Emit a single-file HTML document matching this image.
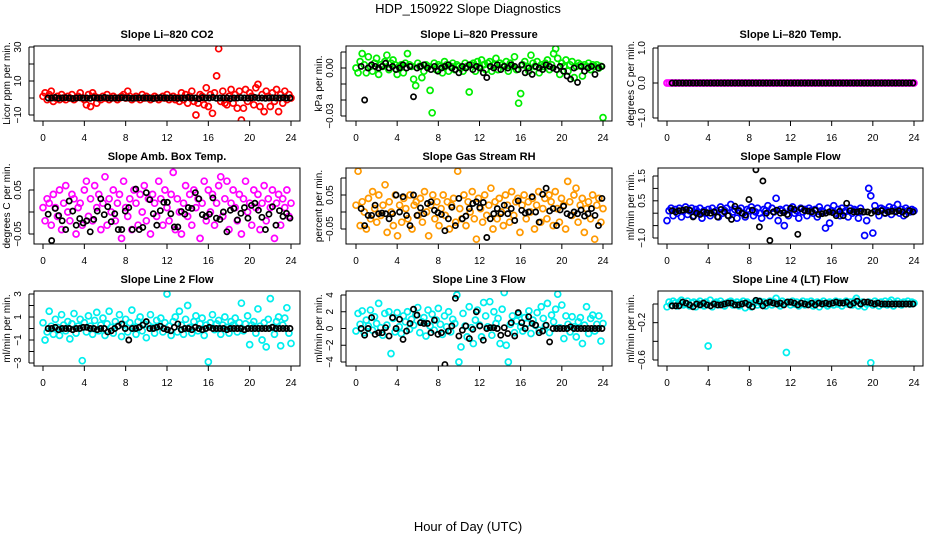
<!DOCTYPE html>
<html><head><meta charset="utf-8"><style>
html,body{margin:0;padding:0;background:#fff;}
svg{display:block;font-family:"Liberation Sans",sans-serif;}
</style></head><body>
<svg id="chart" width="936" height="540" viewBox="0 0 936 540" xmlns="http://www.w3.org/2000/svg">
<text x="468" y="13" font-size="13" text-anchor="middle">HDP_150922  Slope Diagnostics</text>
<text x="468" y="531" font-size="13" text-anchor="middle">Hour of Day (UTC)</text>
</svg>
<script>
const xTicks = [0,4,8,12,16,20,24];
const co2Color = [1,3,-1,2,4,-2,0,1,-1,2,0,-1,1,0,2,-1,0,1,3,0,-1,-4,2,-5,3,1,-3,0,-1,1,0,2,-1,0,1,0,-1,0,1,2,0,4,1,-1,0,1,0,-1,2,0,1,0,-1,0,1,0,-1,0,1,0,2,-1,0,1,-1,0,
-2,3,-1,2,-3,1,4,-2,-10,-3,2,1,-4,6,-5,2,-9,3,13,29,-2,4,-3,-4,1,5,-3,2,-6,4,-13,-6,5,-2,3,1,-4,6,8,-5,2,-8,4,1,-5,3,-2,5,-8,2,-3,4,-1,2,0];
const co2Black = [0,0,0.3,-0.2,0,0.2,0,-0.3,0,0.1,0,0,-0.2,0.2,0,0,0.3,0,-0.1,0,0,0.2,0,0,-0.2,0,0.1,0,0,0,-0.3,0,0.2,0,0,0.1,0,-0.2,0,0,0.3,0,0,-0.4,0.2,0,0,0.3,-0.2,0,0,0.1,-0.3,0,0,0.2,0,-0.1,0,0.3,0,0,-0.2,0,0.1,0,0,0.2,0,0];
const presColor = [0,-0.003,0.004,0.009,0.002,-0.003,0.007,0.001,-0.002,0.003,0.006,-0.004,0.002,0.001,0.004,0.008,-0.001,0.003,0.005,0.002,-0.004,0.001,0.002,-0.003,0.003,0.009,0.002,0.001,-0.007,-0.011,0.003,0.001,-0.006,-0.002,0.002,0.001,-0.014,-0.028,0.003,-0.001,0.002,0.001,-0.003,0.004,0.002,-0.002,0.001,0.003,-0.001,0.002,0.001,0,-0.002,0.003,0.001,-0.015,0.002,0.003,-0.002,0.004,0.001,0.005,0.002,-0.001,0.003,0.004,-0.002,0.002,0.006,-0.001,0.003,0.002,0.001,0.004,-0.002,0.003,0.001,0.007,-0.001,-0.022,-0.016,0.002,0.004,0.001,-0.002,0.008,0.003,0.001,0.004,-0.003,0.002,0.001,0.003,0.005,-0.001,0.002,0.009,0.012,0.006,-0.004,0.003,0.001,0.005,-0.002,0.002,0.004,-0.006,0.001,0.003,0.002,-0.005,0.002,0.001,0.003,-0.001,0.002,0.001,0.002,0,0.001,-0.031];
const presBlack = [0.001,-0.02,0,0.002,0.001,0,0.001,0.003,0,0.001,-0.001,0,0.002,0,0.001,-0.018,0,0.001,0.002,0,-0.001,0.001,-0.002,0,0.001,0.002,0,-0.001,-0.003,0.001,0,0.002,-0.001,0.001,0,-0.003,-0.006,0.001,0,0.002,-0.001,0.001,0,0.002,0.001,-0.001,0.002,-0.003,0,-0.004,0.001,0,-0.001,0.002,0.001,0,-0.001,0.001,-0.002,-0.005,-0.007,0,-0.009,0.001,-0.002,0,0.001,-0.004,0,0.001];
const tempColor = new Array(121).fill(0);
const tempBlack = new Array(70).fill(0);
const ambColor = [0.01,-0.02,0.03,0.02,-0.03,0.04,0.01,-0.01,0.05,-0.04,0.02,0.06,0,-0.02,0.04,0.03,-0.05,0.01,0.02,-0.03,0.05,0.07,-0.01,0.03,-0.02,0.06,0.01,0.04,-0.04,0.02,0.08,-0.03,0.03,0,0.05,-0.02,0.02,0.04,-0.06,0.07,0.01,-0.01,0.03,-0.04,0.05,0.02,-0.03,0.04,0,0.06,-0.02,0.03,-0.05,0.04,0.02,-0.01,0.07,0.03,-0.03,0.05,0.01,-0.02,0.04,0.09,-0.04,0.03,0,-0.05,0.02,0.06,-0.01,0.04,-0.03,0.05,0.01,0.03,-0.06,0.02,0.07,-0.02,0.05,0,0.04,-0.03,0.02,0.06,0.08,-0.01,0.03,0.07,-0.04,0.02,0.05,0.01,-0.02,0.04,-0.05,0.03,0.07,0,0.02,-0.03,0.05,0.01,0.04,-0.04,0.02,0.06,-0.02,0.03,0.01,0.05,-0.06,0.02,0.04,-0.03,0.03,0.01,0.05,-0.01,0.02];
const ambBlack = [-0.005,-0.065,0.008,-0.008,-0.02,-0.04,0.025,0.002,-0.03,-0.015,-0.025,-0.02,-0.045,-0.017,0.002,0.03,-0.006,0.012,-0.022,-0.004,-0.04,-0.04,0.002,0.01,-0.04,0.052,-0.04,-0.035,0.044,0.028,-0.004,-0.03,0.003,0.022,0.022,-0.004,-0.034,-0.034,0.001,-0.005,0.01,0.008,0.044,0.03,-0.006,-0.01,-0.005,0.032,-0.014,-0.017,-0.0,-0.045,0.004,0.008,-0.018,-0.003,0.01,-0.014,0.015,0.02,0.004,-0.012,-0.04,-0.005,0.012,-0.03,0.003,-0.01,-0.003,-0.014];
const rhColor = [0.02,0.12,-0.04,0.03,0,-0.05,0.04,-0.02,0.06,0.01,-0.03,0.05,-0.01,0.02,0.08,-0.06,0.03,0,-0.04,0.05,-0.07,0.02,-0.03,0.04,0.01,-0.02,0.05,-0.05,0.02,0.03,-0.01,0.04,-0.03,0.06,0,-0.07,0.02,0.05,-0.02,0.03,-0.04,0.01,0.05,-0.01,0.03,-0.05,0.02,0.04,-0.03,0.12,0.01,-0.02,0.05,-0.04,0.03,0,0.06,-0.02,-0.08,0.04,0.01,-0.03,0.05,-0.01,0.02,0.07,-0.05,0.03,-0.02,0.04,0,-0.04,0.05,0.02,-0.03,0.06,-0.01,0.03,0.04,-0.06,0.02,0.05,-0.02,0.03,0,0.04,-0.05,0.02,0.06,-0.03,0.01,0.04,-0.02,0.05,0.03,-0.04,0.06,0.01,-0.03,0.04,0.02,-0.05,0.09,0.03,-0.01,0.05,0.07,-0.03,0.02,0.04,-0.06,0.01,0.03,-0.02,0.05,-0.08,0.02,0.04,-0.03,0.01];
const rhBlack = [0.01,-0.04,-0.01,-0.01,0.02,-0.005,-0.003,-0.005,-0.02,-0.005,0.05,0.0,0.045,-0.01,-0.04,0.05,-0.01,0.012,-0.005,0.025,0.03,0.005,-0.002,-0.007,-0.055,-0.02,0.014,-0.04,0.04,-0.02,-0.012,0.01,0.025,0.03,0.013,0.028,-0.075,-0.02,-0.005,0.01,-0.005,0.02,-0.005,0.01,-0.025,0.033,0.005,-0.003,0.0,0.045,0.0,-0.03,0.052,0.07,0.003,0.01,-0.04,0.006,0.017,-0.005,-0.01,0.0,-0.005,0.006,-0.012,-0.005,0.01,-0.01,-0.04,0.04];
const sampColor = [-0.3,0.1,0.2,-0.1,0.15,0.0,0.2,-0.15,0.1,0.25,-0.05,0.1,0.2,-0.1,0.15,0.05,0.2,-0.2,0.1,0.0,0.15,-0.1,0.2,0.05,0.1,-0.15,0.25,0.0,0.1,0.2,-0.1,0.35,0.05,0.15,-0.2,0.1,0.2,0.0,-0.15,0.15,0.1,0.25,-0.1,0.05,0.2,0.0,-0.2,0.15,0.1,0.3,-0.1,0.2,0.05,0.6,-0.3,0.15,0.1,-0.5,0.2,-0.1,0.15,0.25,0.0,0.1,-0.2,0.2,0.05,0.15,-0.1,0.2,0.1,0.0,0.15,-0.15,0.25,0.1,0.05,-0.6,0.2,-0.4,0.1,0.3,0.0,0.15,-0.1,0.2,0.05,0.1,-0.15,0.2,0.0,0.15,0.1,-0.2,0.2,0.05,-0.9,-0.3,1.0,0.7,-0.8,0.3,0.1,-0.1,0.2,0.15,0.0,0.1,0.25,-0.05,0.2,0.1,0.35,0.0,0.15,-0.1,0.2,0.1,0.05,0.15,0.1];
const sampBlack = [0.1,0.05,0.1,0.12,0.15,0.12,-0.15,0.0,-0.05,0.05,0.02,0.0,0.05,-0.15,0.15,0.05,-0.1,-0.25,0.28,0.1,0.0,-0.08,0.55,0.12,1.75,-0.55,1.3,0.0,-1.1,0.05,0.12,0.0,0.02,-0.05,0.2,0.15,-0.85,0.18,0.1,0.08,0.05,0.12,-0.05,-0.02,0.0,0.05,0.02,-0.1,0.08,-0.1,0.4,0.1,0.05,0.05,0.08,0.05,0.05,0.0,0.08,0.05,0.1,0.0,0.05,0.08,0.05,0.1,0.05,-0.05,0.1,0.05];
const line2Color = [0.5,-1,-0.3,1.5,0.2,-0.5,0.8,0.1,-0.6,1.2,0.3,-0.2,0.6,-0.9,0.4,1.3,-0.4,0.2,0.8,-2.8,0.5,-0.3,1.1,0.2,-0.5,0.7,1.4,-0.2,0.3,0.9,-0.6,0.4,1.5,0.1,-0.4,0.6,0.2,1.2,-0.7,0.3,0.8,-0.3,0.5,1.6,0.1,-0.5,0.6,1.0,-0.2,0.4,-0.8,0.3,1.2,0.1,-0.4,0.7,0.2,0.9,-0.3,0.5,3.0,0.2,-0.6,0.6,1.0,-0.3,1.5,0.3,-0.5,0.8,2.0,0.1,-0.4,0.6,1.1,-0.2,0.4,0.9,-0.6,0.3,-2.9,0.5,1.2,-0.1,0.4,0.7,-0.5,0.3,1.0,0.1,-0.4,0.6,0.3,0.9,-0.3,0.5,2.2,-0.2,0.4,1.1,-1.4,0.3,0.6,-0.4,1.7,0.2,-1.0,0.5,-1.6,0.8,2.6,0.1,-0.5,0.6,1.0,-1.5,0.3,0.9,1.8,-0.4,-1.3];
const line2Black = [0,0,0.1,-0.1,0,0,0,-0.1,0,0,0.1,0.1,0,0,-0.1,0,0,-0.3,-0.2,0,0.2,0.4,0,-1.0,0,0,0.1,0.3,0.6,0,0,0.1,0.2,0,-0.1,-0.2,0.1,0.4,-0.1,0,0,-0.1,0.1,0,-0.1,0,0.1,0,0,0,0,-0.1,0,0,0,0,-0.1,0,0,0,0,0,0,0,0.1,0,0,0,0,0];
const line3Color = [-0.3,1.8,0.5,2.1,-0.5,1.0,0.3,2.2,-0.2,1.4,0.6,3.0,0.1,-0.8,1.8,0.4,2.0,-3.0,1.2,-0.4,1.9,0.2,-0.6,1.5,0.8,2.0,-0.1,1.1,0.4,1.6,2.5,-0.5,0.8,1.3,-0.9,2.2,0.3,1.7,-0.2,1.0,2.4,0.5,-0.7,1.5,0.2,2.0,-0.4,1.1,0.6,4.0,-4.0,-2.2,1.8,0.3,-1.0,2.6,0.1,-1.8,1.0,2.2,0.4,-1.0,3.1,1.5,0.2,3.2,-0.8,2.0,0.6,1.2,-1.8,2.3,4.3,-2.0,-4.0,0.5,1.5,-0.5,0.9,1.7,0.2,-0.3,1.3,0.6,2.1,-0.6,1.0,0.4,1.9,-0.2,2.6,1.2,0.3,3.0,-0.5,1.6,0.8,2.3,4.1,0.1,2.8,-1.2,1.5,0.5,-0.4,1.4,0.2,-1.0,0.8,1.3,-1.8,0.4,2.6,-0.6,1.2,1.6,-0.3,0.5,1.5,-1.5,0.6];
const line3Black = [0,-0.8,0,1.3,-0.7,-0.5,-0.5,0.1,-0.9,1.3,0,1.1,-1.3,-0.3,0.6,2.3,1.6,0.7,0.6,0.6,-0.5,1.0,-0.7,-0.5,-4.3,-0.3,0.3,3.6,-0.9,-0.2,0.3,-1.2,-0.1,2.0,0.3,-1.4,0,0.1,0.1,0,-0.8,0.1,-0.6,0.7,-0.9,1.9,0.7,0,1.4,0.6,0.4,-0.5,-0.3,0.4,-1.6,0,0,0,0,0,0.2,0,0,0,0,0,0,0,0,0];
const line4Color = [-0.03,0.02,-0.01,0.03,0.01,-0.02,0.02,0.04,-0.01,0.0,0.03,-0.02,0.01,0.02,-0.03,0.01,0.03,0.0,-0.02,0.02,-0.45,0.04,-0.03,0.01,0.02,-0.01,0.03,0.0,-0.02,0.01,0.02,0.03,-0.01,0.0,0.02,-0.02,0.01,0.03,-0.04,0.02,0.0,-0.03,0.01,0.02,-0.01,0.03,0.0,0.02,-0.02,0.01,0.03,-0.01,0.02,0.06,0.0,-0.02,0.03,0.01,-0.52,0.02,-0.01,0.03,0.0,0.02,-0.02,0.01,0.03,-0.01,0.02,0.0,0.03,-0.02,0.01,0.02,-0.03,0.01,0.03,0.0,-0.02,0.02,0.01,-0.01,0.03,0.0,0.02,-0.02,0.01,0.03,0.0,0.02,-0.01,0.03,0.06,-0.02,0.01,0.02,-0.03,0.0,0.02,-0.63,-0.01,0.03,0.01,-0.02,0.02,0.0,0.03,-0.01,0.02,0.04,-0.02,0.01,0.03,0.0,-0.01,0.02,0.01,0.03,0.0,0.02,0.01];
const line4Black = [-0.02,-0.02,-0.02,0.02,0.01,-0.01,-0.03,0,-0.01,0.01,-0.01,-0.02,0,-0.01,-0.01,0,0.01,0.01,-0.01,-0.01,0,0.01,-0.01,-0.03,0.04,0.03,-0.02,0.01,0.02,0.01,0,0.01,-0.01,0.02,0.02,0.01,-0.01,0.01,0,-0.01,0.01,-0.01,0.01,0,0.01,0,0.01,0.02,0.01,0.01,0.02,-0.01,0.01,0.03,0,0.02,0.02,0.01,0,0.01,0,0,0,0,0,0,0,0,0,0];

const cols = [{l:34,r:300,x0:43,x24:291},{l:346,r:612,x0:356,x24:603},{l:658,r:923,x0:667,x24:914}];
const rows = [{t:46,b:121},{t:168,b:244},{t:291,b:366}];
const panels = [
 {name:'co2',title:'Slope Li\u2013820 CO2',ylab:'Licor ppm per min.',c:0,r:0,col:'#ff0000',v:co2Color,k:co2Black,ref:[30,47,-10,115],ticks:[30,20,10,0,-10],labels:['30','10','\u221210'],lv:[30,10,-10]},
 {name:'pressure',title:'Slope Li\u2013820 Pressure',ylab:'kPa per min.',c:1,r:0,col:'#00ee00',v:presColor,k:presBlack,ref:[0,68,-0.03,116],ticks:[0.01,0,-0.01,-0.02,-0.03],labels:['0.00','\u22120.03'],lv:[0,-0.03]},
 {name:'li820-temp',title:'Slope Li\u2013820 Temp.',ylab:'degrees C per min.',c:2,r:0,col:'#ff00ff',v:tempColor,k:tempBlack,ref:[1,48,-1,118],ticks:[1,0,-1],labels:['1.0','0.0','\u22121.0'],lv:[1,0,-1]},
 {name:'amb-box-temp',title:'Slope Amb. Box Temp.',ylab:'degrees C per min.',c:0,r:1,col:'#ff00ff',v:ambColor,k:ambBlack,ref:[0.05,190,-0.05,234],ticks:[0.05,0,-0.05],labels:['0.05','\u22120.05'],lv:[0.05,-0.05]},
 {name:'gas-stream-rh',title:'Slope Gas Stream RH',ylab:'percent per min.',c:1,r:1,col:'#ff9900',v:rhColor,k:rhBlack,ref:[0.05,195,-0.05,229],ticks:[0.1,0.05,0,-0.05],labels:['0.05','\u22120.05'],lv:[0.05,-0.05]},
 {name:'sample-flow',title:'Slope Sample Flow',ylab:'ml/min per min.',c:2,r:1,col:'#0000ff',v:sampColor,k:sampBlack,ref:[1.5,176,-1,238],ticks:[1.5,1,0.5,0,-0.5,-1],labels:['1.5','0.5','\u22121.0'],lv:[1.5,0.5,-1]},
 {name:'line2-flow',title:'Slope Line 2 Flow',ylab:'ml/min per min.',c:0,r:2,col:'#00eeee',v:line2Color,k:line2Black,ref:[3,294,-3,363],ticks:[3,2,1,0,-1,-2,-3],labels:['3','1','\u22121','\u22123'],lv:[3,1,-1,-3]},
 {name:'line3-flow',title:'Slope Line 3 Flow',ylab:'ml/min per min.',c:1,r:2,col:'#00eeee',v:line3Color,k:line3Black,ref:[4,295,-4,362],ticks:[4,2,0,-2,-4],labels:['4','2','0','\u22122','\u22124'],lv:[4,2,0,-2,-4]},
 {name:'line4-flow',title:'Slope Line 4 (LT) Flow',ylab:'ml/min per min.',c:2,r:2,col:'#00eeee',v:line4Color,k:line4Black,ref:[0,304,-0.6,360],ticks:[0,-0.2,-0.4,-0.6],labels:['\u22120.2','\u22120.6'],lv:[-0.2,-0.6]}
];
const NS='http://www.w3.org/2000/svg';
const svg=document.getElementById('chart');
function mk(tag,attrs,parent){const e=document.createElementNS(NS,tag);for(const a in attrs)e.setAttribute(a,attrs[a]);(parent||svg).appendChild(e);return e;}
panels.forEach(p=>{
 const C=cols[p.c],R=rows[p.r];
 const g=mk('g',{});
 
 
 const xs=h=>C.x0+(C.x24-C.x0)*h/24;
 const ys=v=>p.ref[1]+(v-p.ref[0])*(p.ref[3]-p.ref[1])/(p.ref[2]-p.ref[0]);
 const clip='clip-'+p.name;
 const cp=mk('clipPath',{id:clip},g);
 mk('rect',{x:C.l,y:R.t,width:C.r-C.l,height:R.b-R.t},cp);
 const pts=mk('g',{'clip-path':'url(#'+clip+')'},g);
 
 
 p.v.forEach((v,i)=>{
  const c=mk('circle',{cx:xs(i*24/(p.v.length-1)),cy:ys(v),r:3,fill:'none',stroke:p.col,'stroke-width':1.7},pts);
  
  
 });
 p.k.forEach((v,i)=>{
  const c=mk('circle',{cx:xs(0.5+i*23.4/(p.k.length-1)),cy:ys(v),r:2.6,fill:'none',stroke:'#000','stroke-width':1.7},pts);
  
  
 });
 const box=mk('rect',{x:C.l,y:R.t,width:C.r-C.l,height:R.b-R.t,fill:'none',stroke:'#000','stroke-width':1},g);
 
 
 const t=mk('text',{x:(C.l+C.r)/2,y:R.t-8,'font-size':11,'font-weight':'bold','text-anchor':'middle'},g);
 
 
 t.textContent=p.title;
 xTicks.forEach(h=>{
  mk('line',{x1:xs(h),x2:xs(h),y1:R.b,y2:R.b+5,stroke:'#000'},g);
  const tx=mk('text',{x:xs(h),y:R.b+20,'font-size':10,'text-anchor':'middle'},g);
  
  
  tx.textContent=h;
 });
 p.ticks.forEach(v=>{mk('line',{x1:C.l-5,x2:C.l,y1:ys(v),y2:ys(v),stroke:'#000'},g);});
 mk('line',{x1:C.l-5,x2:C.l-5,y1:ys(p.ticks[0]),y2:ys(p.ticks[p.ticks.length-1]),stroke:'#000'},g);
 p.lv.forEach((v,i)=>{
  const y=ys(v);
  const tx=mk('text',{x:C.l-13,y:y,'font-size':10,'text-anchor':'middle',transform:'rotate(-90 '+(C.l-13)+' '+y+')'},g);
  
  
  tx.textContent=p.labels[i];
 });
 const yc=(R.t+R.b)/2;
 const yl=mk('text',{x:C.l-24,y:yc,'font-size':10,'text-anchor':'middle',transform:'rotate(-90 '+(C.l-24)+' '+yc+')'},g);
 
 
 yl.textContent=p.ylab;
});
</script>
</body></html>
